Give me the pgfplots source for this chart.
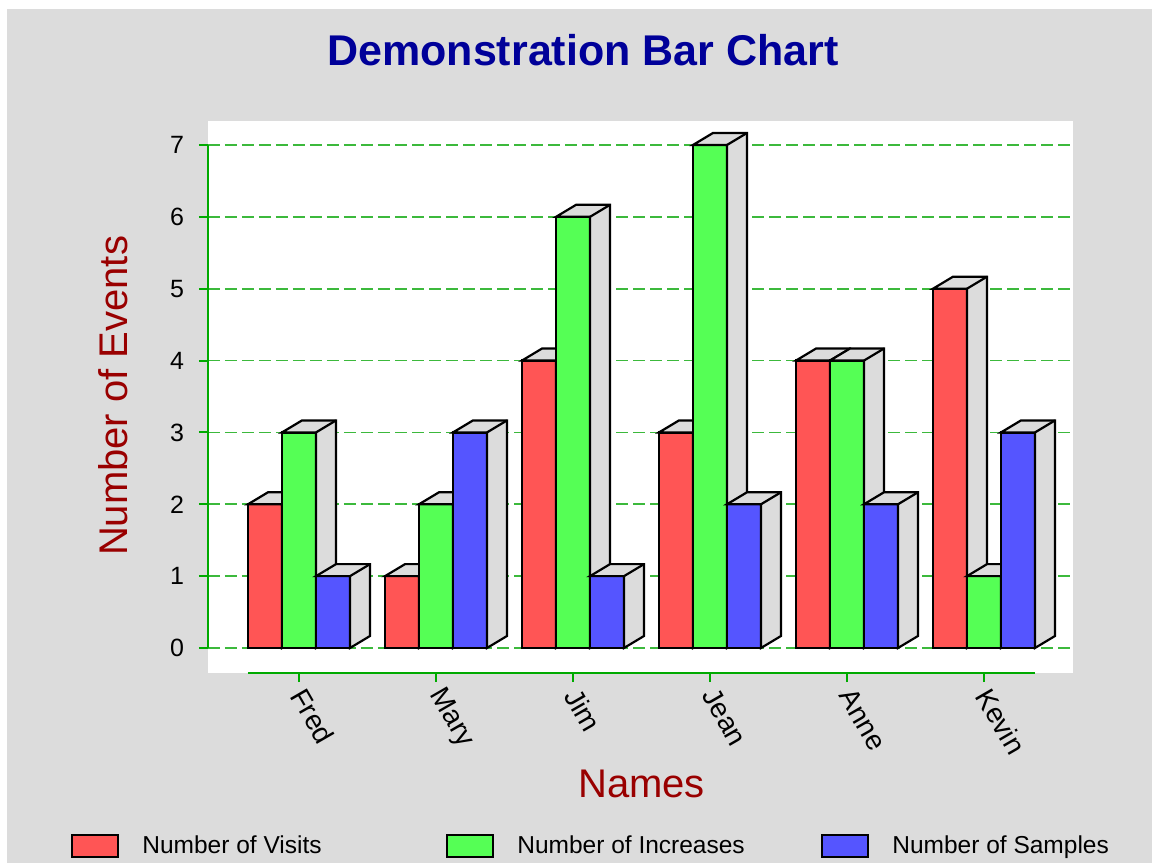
\documentclass[border=0pt]{standalone}
\usepackage{fontspec}
\setmainfont{Liberation Sans}
\usepackage{pgfplots}
\pgfplotsset{compat=1.18}
\definecolor{bggrey}{HTML}{DCDCDC}
\definecolor{sidegrey}{HTML}{DCDCDC}
\definecolor{barred}{HTML}{FF5555}
\definecolor{bargreen}{HTML}{55FF55}
\definecolor{barblue}{HTML}{5555FF}
\definecolor{titleblue}{HTML}{000099}
\definecolor{labelred}{HTML}{990000}
\definecolor{axisgreen}{HTML}{00AA00}
\definecolor{gridgreen}{HTML}{3CB93C}
\pgfdeclareplotmark{nothing}{}
\pgfplotsset{
  box3d/.style={
    only marks, scatter, mark=nothing, forget plot,
    visualization depends on={rawy \as \barh},
    scatter/@pre marker code/.code={%
      \pgfmathsetmacro\Hpt{\barh*35.93}%
      \filldraw[fill=sidegrey, draw=black, line width=1.1pt]
        ({#1-8.5pt},0pt) -- ++(10pt,6pt) -- ({#1+18.5pt},6pt) -- ({#1+18.5pt},{6pt-\Hpt pt}) -- ({#1+8.5pt},{-\Hpt pt}) -- ({#1+8.5pt},0pt) -- cycle;
      \draw[black, line width=1.1pt] ({#1+8.5pt},0pt) -- ++(10pt,6pt);
    },
    scatter/@post marker code/.code={},
  },
  frontbar/.style n args={3}{ybar, bar width=17pt, bar shift=#2, fill=#1, draw=black, line width=1.1pt,
    legend image code/.code={\draw[fill=#1, draw=black, line width=1pt] (0pt,-5.5pt) rectangle (23pt,5.5pt);}},
}
\begin{document}
\begin{tikzpicture}
\fill[white] (-104pt,-95pt) rectangle (472pt,336.5pt);
\fill[bggrey] (-100.5pt,-95pt) rectangle (472pt,332pt);
\begin{axis}[
  at={(0pt,0pt)}, anchor=south west,
  x=68.5pt, y=35.93pt,
  xmin=-0.6642, xmax=5.6496, ymin=-0.3479, ymax=7.3337,
  axis background/.style={fill=white},
  axis line style={draw=none},
  clip marker paths=true,
  xtick={0,...,5}, xticklabels={Fred,Mary,Jim,Jean,Anne,Kevin},
  ytick={0,...,7},
  xtick pos=bottom, ytick pos=left,
  tick align=outside, major tick length=4.5pt,
  tick style={draw=axisgreen, line width=1pt},
  ymajorgrids, grid style={gridgreen, line width=0.8pt, dash pattern=on 6pt off 2.5pt},
  tick label style={font=\fontsize{12.5}{15}\selectfont},
  /pgf/number format/assume math mode=true,
  yticklabel style={xshift=-4pt},
  xticklabel style={font=\fontsize{14}{17}\selectfont, xshift=-2pt, yshift=-1.5pt, rotate=-60, anchor=west},
  title={Demonstration Bar Chart},
  title style={at={(axis description cs:0.4335,1.1259)}, anchor=center, yshift=-5.25pt, font=\bfseries\fontsize{21.5}{26}\selectfont, text=titleblue},
  xlabel={Names}, ylabel={Number of Events},
  label style={font=\fontsize{20}{24}\selectfont, text=labelred},
  xlabel style={at={(axis description cs:0.5012,-0.2011)}, anchor=center},
  ylabel style={at={(axis description cs:-0.1098,0.502)}, anchor=center},
  legend columns=3,
  legend style={at={(axis description cs:-0.1584,-0.3143)}, anchor=west, draw=none, fill=none, inner sep=0pt,
    font=\fontsize{12.25}{15}\selectfont, nodes={inner sep=0pt},
    /tikz/every odd column/.style={column sep=11.5pt}},
  clip=false,
]
\addplot[frontbar={barred}{-17pt}{}] coordinates {(0,2) (1,1) (2,4) (3,3) (4,4) (5,5)};
\addlegendentry{\makebox[152pt][l]{Number of Visits}}
\addplot[box3d=-17pt] coordinates {(0,2) (1,1) (2,4) (3,3) (4,4) (5,5)};
\addplot[frontbar={bargreen}{0pt}{}] coordinates {(0,3) (1,2) (2,6) (3,7) (4,4) (5,1)};
\addlegendentry{\makebox[152pt][l]{Number of Increases}}
\addplot[box3d=0pt] coordinates {(0,3) (1,2) (2,6) (3,7) (4,4) (5,1)};
\addplot[frontbar={barblue}{17pt}{}] coordinates {(0,1) (1,3) (2,1) (3,2) (4,2) (5,3)};
\addlegendentry{Number of Samples}
\addplot[box3d=17pt] coordinates {(0,1) (1,3) (2,1) (3,2) (4,2) (5,3)};
\draw[axisgreen, line width=1pt] (axis cs:-0.6642,0) -- (axis cs:-0.6642,7);
\draw[axisgreen, line width=1pt] (axis cs:-0.3723,-0.3479) -- (axis cs:5.3723,-0.3479);
\end{axis}
\end{tikzpicture}
\end{document}
